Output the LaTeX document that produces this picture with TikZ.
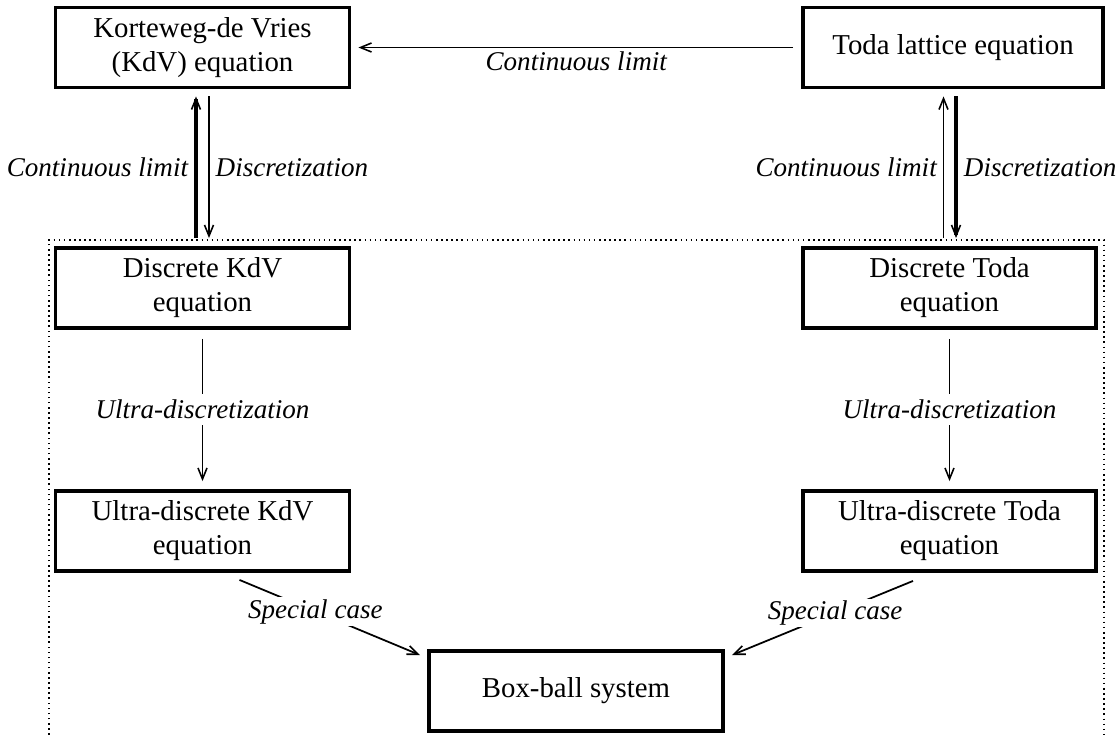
\documentclass[tikz,border=0pt]{standalone}
\usepackage{fontspec}
\setmainfont{Liberation Serif}
\usetikzlibrary{arrows.meta,positioning,calc}

\begin{document}
\begin{tikzpicture}[
    every node/.style={font=\fontsize{16.4}{19.4}\selectfont},
    eqbox/.style={draw, line width=2.2pt, minimum width=5.88cm, minimum height=1.6cm, align=center, inner sep=0pt},
    lbl/.style={font=\fontsize{15.4}{18}\selectfont\itshape},
    arr/.style={line width=1pt, -{Straight Barb[length=2.2mm, width=1.8mm, line width=0.9pt]}},
    thickarr/.style={arr, line width=2.4pt}]
    \useasboundingbox (0,0) rectangle (22.4,-14.74);

    % dotted frame round the discrete side
    \draw[dotted, line width=0.9pt] (0.98,-15) -- (0.98,-4.8) -- (22.08,-4.8) -- (22.08,-15);

    % continuous equations
    \node[eqbox] (kdv) at (4.05,-0.95) {Korteweg-de Vries\\(KdV) equation};
    \node[eqbox, minimum width=6cm] (toda) at (19.06,-0.95) {Toda lattice equation};

    % discrete equations
    \node[eqbox] (dkdv) at (4.05,-5.76) {Discrete KdV\\equation};
    \node[eqbox, minimum width=5.86cm] (dtoda) at (18.99,-5.76) {Discrete Toda\\equation};

    % ultra-discrete equations
    \node[eqbox] (ukdv) at (4.05,-10.62) {Ultra-discrete KdV\\equation};
    \node[eqbox, minimum width=5.86cm] (utoda) at (18.99,-10.62) {Ultra-discrete Toda\\equation};

    % box-ball system
    \node[eqbox] (bbs) at (11.52,-13.82) {Box-ball system};

    % Toda -> KdV
    \draw[arr, shorten <=0.16cm, shorten >=0.14cm] (toda.west) -- node[lbl, below, inner sep=2pt] {Continuous limit} (kdv.east);

    % KdV pair
    \draw[thickarr, shorten <=0.16cm, shorten >=0.14cm] ([xshift=-0.13cm]dkdv.north) -- node[lbl, left] {Continuous limit} ([xshift=-0.13cm]kdv.south);
    \draw[arr, shorten <=0.14cm, shorten >=0.16cm] ([xshift=0.13cm]kdv.south) -- node[lbl, right] {Discretization} ([xshift=0.13cm]dkdv.north);

    % Toda pair
    \coordinate (tt) at (dtoda.north |- toda.south);
    \draw[arr, shorten <=0.16cm, shorten >=0.14cm] ([xshift=-0.12cm]dtoda.north) -- node[lbl, left] {Continuous limit} ([xshift=-0.12cm]tt);
    \draw[thickarr, shorten <=0.14cm, shorten >=0.16cm] ([xshift=0.13cm]tt) -- node[lbl, right] {Discretization} ([xshift=0.13cm]dtoda.north);

    % ultra-discretization
    \draw[arr, shorten <=0.18cm, shorten >=0.16cm] (dkdv) -- node[lbl, fill=white] {Ultra-discretization} (ukdv);
    \draw[arr, shorten <=0.18cm, shorten >=0.16cm] (dtoda) -- node[lbl, fill=white] {Ultra-discretization} (utoda);

    % special cases
    \draw[arr] ([xshift=0.74cm, yshift=-0.14cm]ukdv.south) -- node[lbl, pos=0.42, fill=white, inner sep=1pt] {Special case} ([xshift=-0.14cm, yshift=-0.12cm]bbs.north west);
    \draw[arr] ([xshift=-0.73cm, yshift=-0.16cm]utoda.south) -- node[lbl, pos=0.43, fill=white, inner sep=1pt] {Special case} ([xshift=0.14cm, yshift=-0.12cm]bbs.north east);
\end{tikzpicture}
\end{document}
